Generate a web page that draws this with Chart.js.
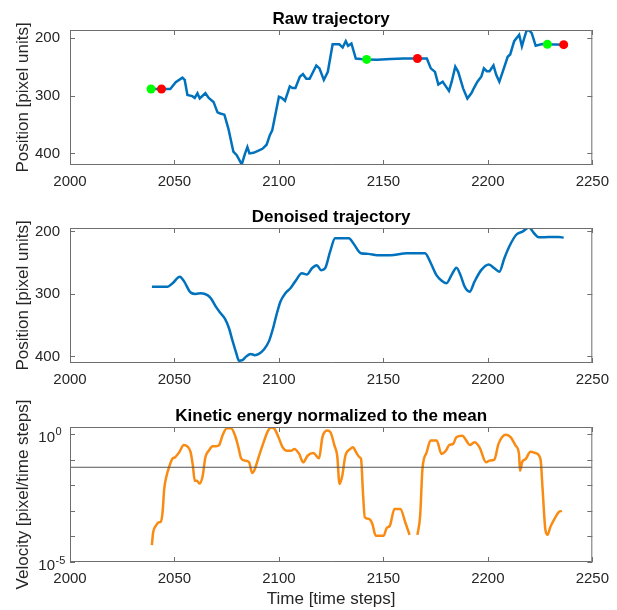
<!DOCTYPE html>
<html>
<head>
<meta charset="utf-8">
<script src="https://cdn.jsdelivr.net/npm/chart.js@4.4.1/dist/chart.umd.min.js"></script>
<style>
  html, body { margin: 0; padding: 0; background: #fff; }
  #wrap { position: relative; width: 617px; height: 610px; }
  #wrap canvas { position: absolute; left: 0; top: 0; }
</style>
</head>
<body>
<div id="wrap">
  <canvas id="raw" width="617" height="610"></canvas>
  <canvas id="den" width="617" height="610"></canvas>
  <canvas id="ke" width="617" height="610"></canvas>
</div>
<script>
// ---- data ----
const xTicks = [2000, 2050, 2100, 2150, 2200, 2250];
const posTicks = [200, 300, 400];
const keTicks = [1e-5, 1e-4, 1e-3, 1e-2, 1e-1, 1];
const keExpLabels = ['-5', '', '', '', '', '0'];

const rawTime = [2039, 2044, 2048, 2050.6, 2053.8, 2054.9, 2056.2, 2058.5, 2059.7, 2061, 2062.1, 2064.8, 2066.4, 2068.7, 2070.6, 2071.9, 2073.9, 2075.8, 2078.2, 2079.8, 2082.2, 2083.8, 2084.9, 2085.9, 2087.8, 2089.7, 2092.1, 2094.1, 2095.7, 2096.8, 2098.9, 2100, 2101.3, 2102.9, 2105.2, 2106.5, 2107.9, 2110, 2111.5, 2113.1, 2114.7, 2117.9, 2119.4, 2121.5, 2123.4, 2125.7, 2128.9, 2130.5, 2132, 2133.1, 2134.7, 2136.8, 2139.2, 2142, 2147, 2153.4, 2159.7, 2166.3, 2170.8, 2172.7, 2174.7, 2176.3, 2178.4, 2179.5, 2181.4, 2182.7, 2184.4, 2185.8, 2188.2, 2190.2, 2192.1, 2193.2, 2195, 2196.9, 2198.1, 2199.5, 2200.8, 2202.7, 2204, 2205.5, 2207.1, 2209.5, 2210.7, 2212.6, 2215, 2216.3, 2217.4, 2218.5, 2219.7, 2221, 2222.9, 2226, 2228.4, 2236.3];
const rawPos = [288.7, 288.7, 288.7, 277, 269, 273, 299, 301, 304, 296, 305, 296, 304, 311, 329, 331, 333, 357, 397, 403, 419, 400, 389, 400, 399, 396, 392, 385, 368, 360, 322, 302, 304, 309, 284, 287, 287, 267.5, 263, 271, 271, 248, 253, 273, 259, 211.5, 211.5, 217, 206, 214, 210, 236, 237, 237.5, 238, 237, 236, 236, 236, 253, 259, 281, 276, 282, 292, 276, 250, 259, 288, 305, 296, 288, 276, 267, 253, 258, 258, 248, 264, 276, 259, 233, 229, 206, 195, 215, 201, 188, 187, 192, 214, 211, 211.5, 212];

const startTime = [2038.8, 2142, 2228.5];
const startPos = [288.7, 237.5, 211.5];
const endTime = [2043.8, 2166.3, 2236.3];
const endPos = [288.7, 236, 212];

const denTime = [2039.2, 2046.7, 2049.1, 2052.6, 2054.6, 2057.8, 2060.2, 2062.6, 2065.8, 2067.4, 2069.8, 2072.1, 2074.2, 2076.1, 2077.7, 2079.6, 2080.9, 2082.5, 2084.4, 2086.4, 2088.5, 2090.4, 2092.8, 2095.2, 2097.2, 2098.8, 2100.7, 2103.1, 2105.5, 2107.8, 2111, 2113.4, 2115.8, 2118.1, 2120.2, 2122.1, 2124.5, 2126.9, 2130, 2133.5, 2135.6, 2139.2, 2142.7, 2147, 2153.4, 2161.2, 2169.9, 2172.7, 2175.4, 2177.9, 2180.2, 2182.6, 2185, 2186.9, 2188.9, 2191.3, 2193.6, 2196.8, 2200.5, 2203.1, 2205.5, 2207.9, 2210.2, 2213.7, 2216.6, 2219.7, 2222.1, 2224.4, 2229.2, 2233.9, 2236.3];
const denPos = [288.5, 288.5, 283, 272.5, 280, 298, 300, 299, 302, 307, 320.5, 331, 340, 355, 374, 395, 407, 406, 400, 396, 398, 396, 389, 376, 355, 334, 312.5, 299, 291, 280, 267, 269, 259, 254, 262, 259, 232.5, 211, 211, 211, 219, 235, 236, 238, 238, 235, 235, 251, 270, 279, 283, 270, 258, 270, 288.5, 296.5, 280.5, 262, 253, 259, 264.5, 243, 224.5, 205, 200.5, 193.6, 203, 209.5, 209, 209, 210];

const keTime = [2039.2, 2039.8, 2041.1, 2042.3, 2043.5, 2044.3, 2045.1, 2046.2, 2047.7, 2049, 2050.3, 2052.2, 2054.5, 2056.1, 2057.7, 2058.8, 2059.7, 2060.8, 2061.9, 2063.5, 2064.8, 2066.4, 2068.3, 2069.9, 2071.4, 2073, 2075.1, 2077.1, 2079, 2080.6, 2081.9, 2083.8, 2085.7, 2087.2, 2088.5, 2090.1, 2092.4, 2094.8, 2096.4, 2097.9, 2099.8, 2101.8, 2103.9, 2105.8, 2107.4, 2109.7, 2111.6, 2113.7, 2116.5, 2119.2, 2120.8, 2123.1, 2124.7, 2126.6, 2127.9, 2129, 2130.3, 2131.8, 2134.2, 2135.4, 2137, 2138.6, 2139.3, 2140.3, 2141.1, 2143.1, 2144.7, 2146.3, 2150.2, 2151.5, 2153.1, 2155.3, 2158.1, 2160.5, 2162.5, 2164.4, 2166.3, 2167.6, 2168.7, 2170.7, 2172.6, 2175.5, 2177.8, 2179.9, 2181.5, 2183.4, 2184.9, 2187.8, 2189.7, 2191.3, 2193.6, 2196, 2199.2, 2200.7, 2203.1, 2205.1, 2208.6, 2211, 2213.3, 2214.9, 2215.4, 2216.5, 2218.1, 2220.4, 2222.8, 2225.2, 2226.2, 2227.5, 2228.6, 2229.9, 2231.9, 2233.8, 2235.4];
const keVal = [4.6e-5, 1.45e-4, 2.6e-4, 3.5e-4, 3.8e-4, 8.7e-4, 7.1e-3, 0.023, 0.059, 0.107, 0.123, 0.19, 0.37, 0.33, 0.20, 0.059, 0.015, 0.0148, 0.0115, 0.023, 0.123, 0.22, 0.33, 0.33, 0.37, 0.87, 1.66, 1.66, 0.87, 0.30, 0.112, 0.091, 0.078, 0.030, 0.043, 0.112, 0.41, 1.35, 1.78, 1.58, 0.74, 0.30, 0.22, 0.22, 0.26, 0.166, 0.078, 0.141, 0.18, 0.112, 0.74, 1.35, 1.15, 0.35, 0.141, 0.0112, 0.023, 0.141, 0.26, 0.30, 0.19, 0.123, 0.107, 0.0039, 5.6e-4, 4.8e-4, 3.1e-4, 1.07e-4, 1.07e-4, 2.1e-4, 2.6e-4, 1.17e-3, 1.17e-3, 3.5e-4, 1.15e-4, null, 1.15e-4, 6.5e-4, 0.043, 0.19, 0.55, 0.55, 0.166, 0.22, 0.37, 0.41, 0.74, 0.85, 0.55, 0.37, 0.47, 0.30, 0.078, 0.091, 0.1, 0.41, 0.93, 0.74, 0.35, 0.166, 0.037, 0.083, 0.105, 0.20, 0.18, 0.105, 7.1e-3, 1.95e-4, 1.15e-4, 2.3e-4, 4.8e-4, 8.7e-4, 1e-3];
const keThreshold = 0.05;

// ---- look ----
const FONT = "'Liberation Sans', Arial, Helvetica, sans-serif";
const AXIS_COLOR = '#6e6e6e';
const TEXT_COLOR = '#262626';
const BLUE = '#0072BD';
const ORANGE = '#F98A12';
const TICK_LEN = 5;

const pts = (xs, ys) => xs.map((x, i) => ({x: x, y: ys[i]}));

// box, inward ticks on all four sides, titles and axis labels (MATLAB look)
const matlabBox = {
  id: 'matlabBox',
  afterDatasetsDraw(chart, args, o) {
    const {ctx, chartArea: a} = chart;
    const x = chart.scales.x, y = chart.scales.y;
    ctx.save();
    ctx.strokeStyle = AXIS_COLOR;
    ctx.lineWidth = 1;
    ctx.beginPath();
    ctx.rect(a.left + 0.5, a.top + 0.5, a.right - a.left - 1, a.bottom - a.top - 1);
    x.ticks.forEach(t => {
      const px = Math.round(x.getPixelForValue(t.value)) + 0.5;
      ctx.moveTo(px, a.bottom); ctx.lineTo(px, a.bottom - TICK_LEN);
      ctx.moveTo(px, a.top); ctx.lineTo(px, a.top + TICK_LEN);
    });
    y.ticks.forEach(t => {
      const py = Math.round(y.getPixelForValue(t.value)) + 0.5;
      ctx.moveTo(a.left, py); ctx.lineTo(a.left + TICK_LEN, py);
      ctx.moveTo(a.right, py); ctx.lineTo(a.right - TICK_LEN, py);
    });
    ctx.stroke();

    // title
    ctx.fillStyle = '#000';
    ctx.font = 'bold 17px ' + FONT;
    ctx.textAlign = 'center';
    ctx.textBaseline = 'alphabetic';
    ctx.fillText(o.title, (a.left + a.right) / 2, a.top - 6.5);

    // axis labels
    ctx.fillStyle = TEXT_COLOR;
    ctx.font = '17px ' + FONT;
    if (o.xlabel) ctx.fillText(o.xlabel, (a.left + a.right) / 2, a.bottom + 42);
    ctx.save();
    ctx.translate(28, (a.top + a.bottom) / 2);
    ctx.rotate(-Math.PI / 2);
    ctx.fillText(o.ylabel, 0, 0);
    ctx.restore();

    // power-of-ten tick labels
    if (o.expLabels) {
      y.ticks.forEach((t, i) => {
        const e = o.expLabels[i];
        if (!e) return;
        const py = y.getPixelForValue(t.value);
        ctx.font = '15px ' + FONT;
        ctx.textAlign = 'right';
        ctx.fillText('10', 55, py + 8.3);
        ctx.font = '11px ' + FONT;
        ctx.textAlign = 'left';
        ctx.fillText(e, 55.5, py + 1.5);
      });
    }
    ctx.restore();
  }
};

function xScale() {
  return {
    type: 'linear',
    min: 2000, max: 2250,
    afterBuildTicks: s => { s.ticks = xTicks.map(v => ({value: v})); },
    afterFit: s => { s.height = 40; },
    grid: {display: false, drawTicks: false},
    border: {display: false},
    ticks: {color: TEXT_COLOR, font: {family: FONT, size: 15}, padding: 8, maxRotation: 0,
            callback: v => String(v)}
  };
}

function posScale(min, max) {
  return {
    type: 'linear',
    reverse: true,
    min: min, max: max,
    afterBuildTicks: s => { s.ticks = posTicks.map(v => ({value: v})); },
    afterFit: s => { s.width = 70; },
    grid: {display: false, drawTicks: false},
    border: {display: false},
    ticks: {color: TEXT_COLOR, font: {family: FONT, size: 15}, padding: 10,
            callback: v => String(v)}
  };
}

function makeChart(id, datasets, yScale, padTop, padBottom, box) {
  return new Chart(document.getElementById(id), {
    type: 'line',
    data: {datasets: datasets},
    options: {
      responsive: false,
      animation: false,
      events: [],
      layout: {padding: {left: 0, right: 20, top: padTop, bottom: padBottom}},
      scales: {x: xScale(), y: yScale},
      plugins: {legend: {display: false}, tooltip: {enabled: false}, matlabBox: box}
    },
    plugins: [matlabBox]
  });
}

// Raw trajectory
makeChart('raw', [
  {data: pts(rawTime, rawPos), borderColor: BLUE, borderWidth: 2.5, pointRadius: 0, tension: 0},
  {data: pts(startTime, startPos), showLine: false, pointRadius: 4.5, pointBorderWidth: 0,
   pointBackgroundColor: '#00FF00', order: -1},
  {data: pts(endTime, endPos), showLine: false, pointRadius: 4.5, pointBorderWidth: 0,
   pointBackgroundColor: '#FF0000', order: -2}
], posScale(186.7, 420), 30, 405,
  {title: 'Raw trajectory', ylabel: 'Position [pixel units]'});

// Denoised trajectory
makeChart('den', [
  {data: pts(denTime, denPos), borderColor: BLUE, borderWidth: 2.5, pointRadius: 0,
   cubicInterpolationMode: 'monotone'}
], posScale(194.6, 410.6), 228, 207,
  {title: 'Denoised trajectory', ylabel: 'Position [pixel units]'});

// Kinetic energy
makeChart('ke', [
  {data: pts([2000, 2250], [keThreshold, keThreshold]), borderColor: '#555', borderWidth: 1,
   pointRadius: 0},
  {data: pts(keTime, keVal), borderColor: ORANGE, borderWidth: 2.5, pointRadius: 0,
   cubicInterpolationMode: 'monotone', spanGaps: false}
], {
  type: 'logarithmic',
  min: 1e-5, max: 1.87,
  afterBuildTicks: s => { s.ticks = keTicks.map(v => ({value: v})); },
  afterFit: s => { s.width = 70; },
  grid: {display: false, drawTicks: false},
  border: {display: false},
  ticks: {callback: () => ''}
}, 427, 8,
  {title: 'Kinetic energy normalized to the mean', ylabel: 'Velocity [pixel/time steps]',
   xlabel: 'Time [time steps]', expLabels: keExpLabels});
</script>
</body>
</html>
